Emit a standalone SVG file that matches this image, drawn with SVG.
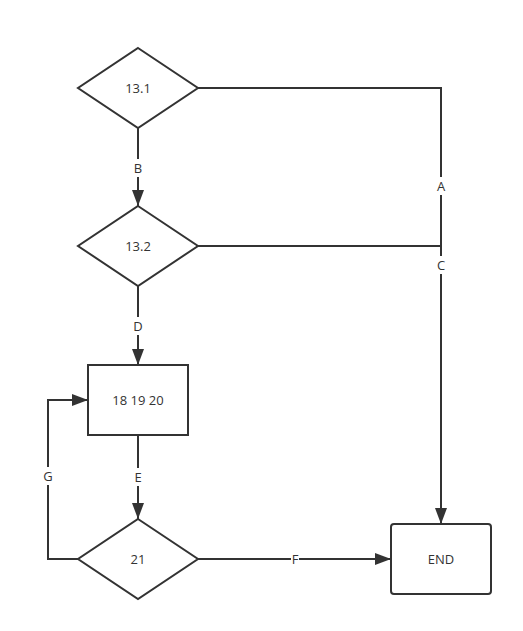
<svg xmlns="http://www.w3.org/2000/svg" width="523" height="631" viewBox="0 0 523 631">
<style>
.s{fill:#fff;stroke:#333;stroke-width:2}
.c{fill:none;stroke:#333;stroke-width:2}
.t{font-family:"Open Sans","Noto Sans",sans-serif;font-size:13px;fill:#333;text-anchor:middle;dominant-baseline:central}
.lb{fill:#fff}
</style>
<defs>
<marker id="ah" viewBox="0 0 16 12" refX="16" refY="6" markerWidth="16" markerHeight="12" markerUnits="userSpaceOnUse" orient="auto">
<path d="M0,0 L16,6 L0,12 Z" fill="#333"/>
</marker>
</defs>
<rect width="523" height="631" fill="#fff"/>
<g id="connectors">
<polyline class="c" points="198,88 441,88 441,524" marker-end="url(#ah)"/>
<polyline class="c" points="198,246 441,246"/>
<line class="c" x1="138" y1="128" x2="138" y2="206" marker-end="url(#ah)"/>
<line class="c" x1="138" y1="286" x2="138" y2="365" marker-end="url(#ah)"/>
<line class="c" x1="138" y1="435" x2="138" y2="519" marker-end="url(#ah)"/>
<line class="c" x1="198" y1="559" x2="391" y2="559" marker-end="url(#ah)"/>
<polyline class="c" points="78,559 48,559 48,400 88,400" marker-end="url(#ah)"/>
<rect class="lb" x="434" y="177" width="14" height="18"/>
<text class="t" x="441" y="186">A</text>
<rect class="lb" x="434" y="256" width="14" height="18"/>
<text class="t" x="441" y="265">C</text>
<rect class="lb" x="131" y="159" width="14" height="18"/>
<text class="t" x="138" y="168">B</text>
<rect class="lb" x="131" y="317" width="14" height="18"/>
<text class="t" x="138" y="326">D</text>
<rect class="lb" x="131" y="468" width="14" height="18"/>
<text class="t" x="138" y="477">E</text>
<rect class="lb" x="291" y="551" width="8" height="16"/>
<text class="t" x="295" y="559">F</text>
<rect class="lb" x="41" y="467" width="14" height="18"/>
<text class="t" x="48" y="476">G</text>
</g>
<g id="n131">
<polygon class="s" points="138,48 198,88 138,128 78,88"/>
<text class="t" x="138" y="88">13.1</text>
</g>
<g id="n132">
<polygon class="s" points="138,206 198,246 138,286 78,246"/>
<text class="t" x="138" y="246">13.2</text>
</g>
<g id="n181920">
<rect class="s" x="88" y="365" width="100" height="70"/>
<text class="t" x="138" y="400">18 19 20</text>
</g>
<g id="n21">
<polygon class="s" points="138,519 198,559 138,599 78,559"/>
<text class="t" x="138" y="559">21</text>
</g>
<g id="end">
<rect class="s" x="391" y="524" width="100" height="70" rx="3"/>
<text class="t" x="441" y="559">END</text>
</g>
</svg>
